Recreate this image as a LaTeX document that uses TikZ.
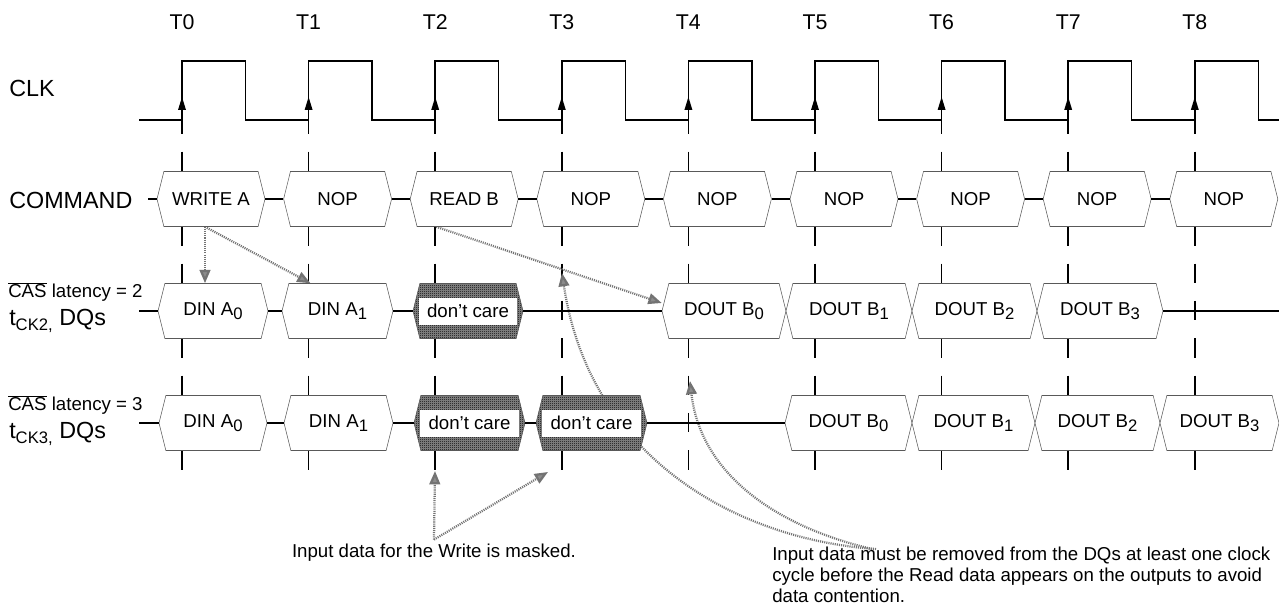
\documentclass[tikz,border=0pt]{standalone}
\usepackage{fontspec}
\setmainfont{Liberation Sans}
\usetikzlibrary{shapes.symbols, arrows.meta, patterns, calc}

\pgfdeclarelayer{bg}
\pgfsetlayers{bg,main}

% fine checkerboard for the "don't care" slots
\pgfdeclarepatternformonly{checker}{\pgfqpoint{0pt}{0pt}}{\pgfqpoint{1.5pt}{1.5pt}}{\pgfqpoint{1.5pt}{1.5pt}}{%
  \pgfpathrectangle{\pgfqpoint{0pt}{0pt}}{\pgfqpoint{.75pt}{.75pt}}%
  \pgfpathrectangle{\pgfqpoint{.75pt}{.75pt}}{\pgfqpoint{.75pt}{.75pt}}%
  \pgfusepath{fill}}

\newcommand{\lowsub}[1]{\raisebox{-0.4ex}{\fontsize{12.5}{13}\selectfont #1}}

\begin{document}
\begin{tikzpicture}[x=0.75pt, y=-0.75pt, font=\fontsize{14}{16}\selectfont]
        \tikzstyle{bus} = [signal, signal to=west and east, signal pointer angle=152, draw=black!65, fill=white, minimum height=41.25pt, inner sep=0pt];
        \tikzstyle{bw} = [minimum width=#1*0.75pt];
        \tikzstyle{dontcare} = [bus, preaction={fill=black!45}, pattern=checker,
            path picture={\fill[white] ($(path picture bounding box.west)+(6,-13.5)$) rectangle ($(path picture bounding box.east)+(-6,13.5)$);}];
        \tikzstyle{wire} = [black, line width=0.8pt];
        \tikzstyle{tick} = [black, line width=1.1pt, dash pattern=on 14.5pt off 13.5pt];
        \tikzstyle{hint} = [draw=black!55, line width=1.7pt, dash pattern=on 0.8pt off 0.8pt, -{Triangle[width=8pt, length=10pt, fill=black!45]}];
        \tikzstyle{biglabel} = [anchor=west, inner sep=0pt, font=\fontsize{17.5}{20}\selectfont];

        \useasboundingbox (0,0) rectangle (1279,610);

        % row labels
        \node[biglabel] (clklabel) at (9,88) {CLK};
        \node[biglabel] (cmdlabel) at (9,200) {COMMAND};
        \node[anchor=west, inner sep=0pt] (cas2) at (8,292) {$\overline{\mbox{CAS}}$ latency = 2};
        \node[biglabel] (tck2) at (9,321) {t\lowsub{CK2,} DQs};
        \node[anchor=west, inner sep=0pt] (cas3) at (8,405) {$\overline{\mbox{CAS}}$ latency = 3};
        \node[biglabel] (tck3) at (9,434) {t\lowsub{CK3,} DQs};

        % clock edges, time marks and command slots
        \foreach \i/\cmd in {0/WRITE A,1/NOP,2/READ B,3/NOP,4/NOP,5/NOP,6/NOP,7/NOP,8/NOP} {
            \pgfmathsetmacro\tx{182+126.6*\i}
            \node[font=\fontsize{16}{18}\selectfont] (t\i) at (\tx,22) {T\i};
            \node[bus, bw=108] (cmd\i) at (\tx+29,199) {\cmd};
            \fill ({\tx-4},110) -- ({\tx+4},110) -- (\tx,97) -- cycle;
            \begin{pgfonlayer}{bg}
                \draw[tick] (\tx,114.33) -- (\tx,470);
            \end{pgfonlayer}
        }
        \draw[wire, line width=1.1pt] (139,120)
            \foreach \i in {0,...,8} { -- ({182+126.6*\i},120) -- ({182+126.6*\i},61) -- ({245.5+126.6*\i},61) -- ({245.5+126.6*\i},120) } -- (1279,120);

        \coordinate (cmdstart) at (148,199);
        \draw[wire] (cmdstart) -- (cmd0.west);
        \foreach \i [count=\j] in {0,...,7}
            \draw[wire] (cmd\i.east) -- (cmd\j.west);

        % CAS latency = 2
        \node[bus, bw=110] (dqa0) at (213,311) {DIN A\lowsub{0}};
        \node[bus, bw=111] (dqa1) at (337.5,311) {DIN A\lowsub{1}};
        \node[dontcare, bw=110] (dqa2) at (468,311) {don’t care};
        \node[bus, bw=124] (dqa3) at (724,311) {DOUT B\lowsub{0}};
        \node[bus, bw=126] (dqa4) at (849,311) {DOUT B\lowsub{1}};
        \node[bus, bw=125] (dqa5) at (974.5,311) {DOUT B\lowsub{2}};
        \node[bus, bw=126] (dqa6) at (1100,311) {DOUT B\lowsub{3}};
        \coordinate (dqastart) at (139,311);
        \coordinate (dqaend) at (1279,311);
        \draw[wire] (dqastart) -- (dqa0.west);
        \draw[wire] (dqa0.east) -- (dqa1.west);
        \draw[wire] (dqa1.east) -- (dqa2.west);
        \draw[wire] (dqa2.east) -- (dqa3.west);
        \draw[wire] (dqa6.east) -- (dqaend);

        % CAS latency = 3
        \node[bus, bw=108] (dqb0) at (213,423) {DIN A\lowsub{0}};
        \node[bus, bw=109] (dqb1) at (338.5,423) {DIN A\lowsub{1}};
        \node[dontcare, bw=111] (dqb2) at (469.5,423) {don’t care};
        \node[dontcare, bw=111] (dqb3) at (591.5,423) {don’t care};
        \node[bus, bw=127] (dqb4) at (848.5,423) {DOUT B\lowsub{0}};
        \node[bus, bw=123] (dqb5) at (973.5,423) {DOUT B\lowsub{1}};
        \node[bus, bw=125] (dqb6) at (1097.5,423) {DOUT B\lowsub{2}};
        \node[bus, bw=119] (dqb7) at (1219.5,423) {DOUT B\lowsub{3}};
        \coordinate (dqbstart) at (139,423);
        \draw[wire] (dqbstart) -- (dqb0.west);
        \draw[wire] (dqb0.east) -- (dqb1.west);
        \draw[wire] (dqb1.east) -- (dqb2.west);
        \draw[wire] (dqb2.east) -- (dqb3.west);
        \draw[wire] (dqb3.east) -- (dqb4.west);

        % notes
        \node (masked) at (434,553) {Input data for the Write is masked.};
        \node[anchor=north west, align=left, inner sep=0pt, font=\fontsize{14}{15.75}\selectfont] (note) at (772,547)
            {Input data must be removed from the DQs at least one clock\\cycle before the Read data appears on the outputs to avoid\\data contention.};
        \coordinate (t2low) at (435,471);
        \coordinate (t3low) at (548,472);
        \coordinate (t3mark) at (562,273);
        \coordinate (t4mark) at (690,381);

        \begin{pgfonlayer}{bg}
            \draw[hint] ($(cmd0.south)+(-6,0)$) -- ($(dqa0.north)+(-8,0)$);
            \draw[hint] ($(cmd0.south)+(-6,0)$) -- ($(dqa1.north)+(-27,0)$);
            \draw[hint] ($(cmd2.south)+(-28,0)$) -- ($(dqa3.west)+(0,-8)$);
            \draw[hint] (masked.north) -- (t2low);
            \draw[hint] (masked.north) -- (t3low);
            \draw[hint] ($(note.north west)+(100,2)$) .. controls (770,525) and (700,470) .. (t4mark);
            \draw[hint] ($(note.north west)+(104,2)$) .. controls (740,540) and (590,460) .. (t3mark);
        \end{pgfonlayer}

    \end{tikzpicture}
\end{document}
